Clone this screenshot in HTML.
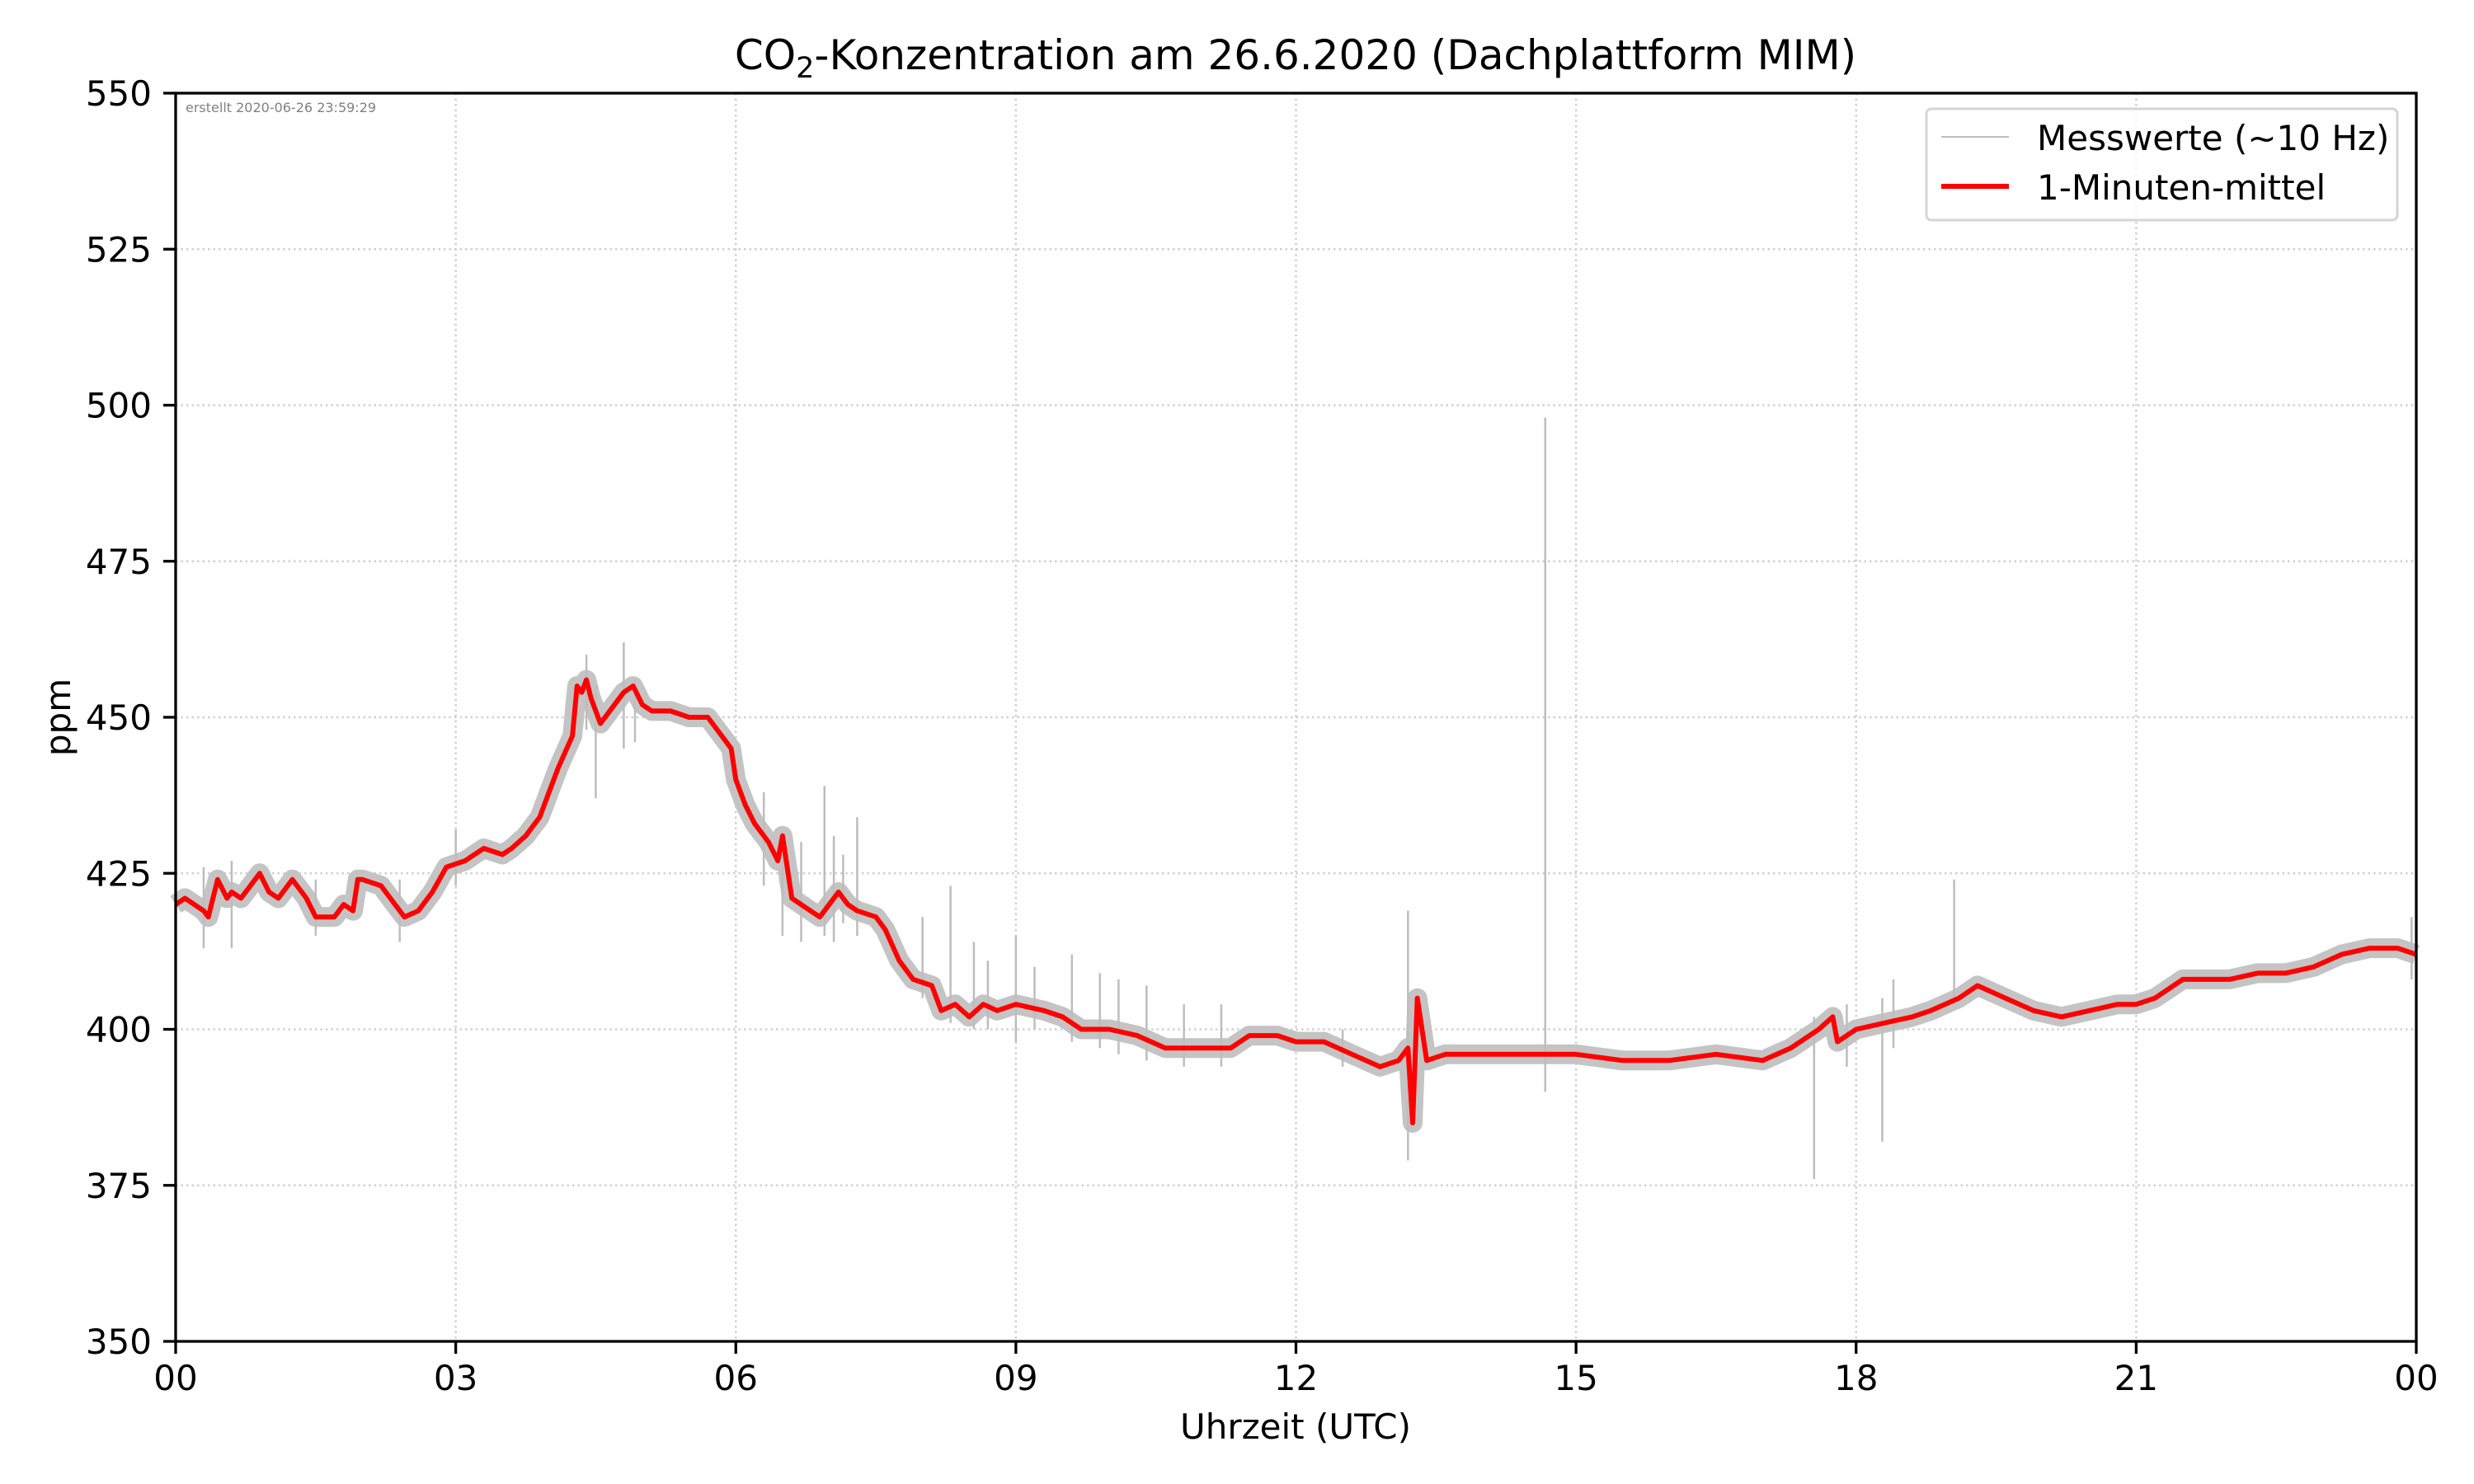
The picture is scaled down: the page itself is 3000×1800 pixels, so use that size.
<!DOCTYPE html>
<html><head><meta charset="utf-8"><style>body{margin:0;background:#fff}svg{display:block}text{font-family:"DejaVu Sans","Liberation Sans",sans-serif}</style></head>
<body>
<svg id="chart" width="3000" height="1800" viewBox="0 0 3000 1800" xmlns="http://www.w3.org/2000/svg">
<rect width="3000" height="1800" fill="#fff"/>
<text x="1571" y="84" font-size="50" text-anchor="middle">CO<tspan font-size="35" dy="10">2</tspan><tspan dy="-10">-Konzentration am 26.6.2020 (Dachplattform MIM)</tspan></text>
<g id="grid"></g><g id="series"></g><g id="axes"></g>
<text x="225" y="136" font-size="16" fill="#808080">erstellt 2020-06-26 23:59:29</text>
<text x="1571" y="1745" font-size="42" text-anchor="middle">Uhrzeit (UTC)</text>
<text x="0" y="0" font-size="42" text-anchor="middle" transform="translate(85,870) rotate(-90)">ppm</text>
<g>
<rect x="2336" y="132" width="571" height="135" rx="6" fill="#fff" fill-opacity="0.8" stroke="#d5d5d5" stroke-width="3"/>
<line x1="2354" y1="166" x2="2436" y2="166" stroke="#bfbfbf" stroke-width="2"/>
<text x="2470" y="182" font-size="42">Messwerte (~10 Hz)</text>
<line x1="2354" y1="226" x2="2436" y2="226" stroke="#ff0000" stroke-width="6"/>
<text x="2470" y="242" font-size="42">1-Minuten-mittel</text>
</g>
</svg>
<script>
const hours=[0,0.1,0.2,0.3,0.35,0.45,0.55,0.6,0.7,0.8,0.9,1.0,1.1,1.25,1.4,1.5,1.7,1.8,1.9,1.95,2.0,2.2,2.35,2.45,2.6,2.75,2.9,3.1,3.3,3.5,3.6,3.75,3.9,4.0,4.1,4.25,4.3,4.35,4.4,4.45,4.55,4.65,4.8,4.9,5.0,5.1,5.3,5.5,5.7,5.85,5.95,6.0,6.1,6.2,6.35,6.45,6.5,6.6,6.8,6.9,7.0,7.1,7.2,7.3,7.5,7.6,7.75,7.9,8.1,8.2,8.35,8.5,8.65,8.8,9.0,9.3,9.5,9.7,10.0,10.3,10.6,11.0,11.3,11.5,11.8,12.0,12.3,12.6,12.9,13.1,13.2,13.25,13.3,13.4,13.6,14.0,14.5,15.0,15.5,16.0,16.5,17.0,17.3,17.6,17.75,17.8,18.0,18.3,18.6,18.8,19.1,19.3,19.6,19.9,20.2,20.5,20.8,21.0,21.2,21.5,21.8,22.0,22.3,22.6,22.9,23.2,23.5,23.8,24.0];
const meanPpm=[420,421,420,419,418,424,421,422,421,423,425,422,421,424,421,418,418,420,419,424,424,423,420,418,419,422,426,427,429,428,429,431,434,438,442,447,455,454,456,453,449,451,454,455,452,451,451,450,450,447,445,440,436,433,430,427,431,421,419,418,420,422,420,419,418,416,411,408,407,403,404,402,404,403,404,403,402,400,400,399,397,397,397,399,399,398,398,396,394,395,397,385,405,395,396,396,396,396,395,395,396,395,397,400,402,398,400,401,402,403,405,407,405,403,402,403,404,404,405,408,408,408,409,409,410,412,413,413,412];
const spikeHours=[4.4,4.8,4.92,4.5,6.5,6.95,7.3,8.3,9.0,10.4,11.2,13.2,14.67,14.67,17.55,18.28,19.05,23.95,6.3,6.7,7.05,7.15,8.0,8.55,8.7,9.2,9.6,9.9,10.1,10.8,12.5,17.9,18.4,0.3,0.6,1.5,2.4,3.0];
const spikeLow=[448,445,446,437,415,415,415,401,398,395,394,379,390,396,376,382,404,408,423,414,414,417,405,400,400,400,398,397,396,394,394,394,397,413,413,415,414,423];
const spikeHigh=[460,462,456,455,428,439,434,423,415,407,404,419,498,396,402,405,424,418,438,430,431,428,418,414,411,410,412,409,408,404,400,404,408,426,427,424,424,432];
const xTicks=[0,3,6,9,12,15,18,21,24];
const xTickLabels=["00","03","06","09","12","15","18","21","00"];
const yTicks=[350,375,400,425,450,475,500,525,550];
const NS="http://www.w3.org/2000/svg";
const L=213,R=2930,T=113,B=1627;
const xs=h=>L+(h/24)*(R-L);
const ys=v=>B-(v-350)/200*(B-T);
function mk(tag,attrs,parent){const e=document.createElementNS(NS,tag);for(const k in attrs)e.setAttribute(k,attrs[k]);parent.appendChild(e);return e;}
const grid=document.getElementById('grid'),ser=document.getElementById('series'),ax=document.getElementById('axes');
xTicks.forEach((h,i)=>{
 const g=mk('line',{x1:xs(h),x2:xs(h),y1:T,y2:B,stroke:'#d0d0d0','stroke-width':2.5,'stroke-dasharray':'2.5,4'},grid);
 
 
 const t=mk('line',{x1:xs(h),x2:xs(h),y1:B,y2:B+15,stroke:'#000','stroke-width':3.3},ax);
 
 
 const lb=mk('text',{x:xs(h),y:1686,'font-size':42,'text-anchor':'middle'},ax);lb.textContent=xTickLabels[i];
 
 
});
yTicks.forEach(v=>{
 const g=mk('line',{x1:L,x2:R,y1:ys(v),y2:ys(v),stroke:'#d0d0d0','stroke-width':2.5,'stroke-dasharray':'2.5,4'},grid);
 
 
 const t=mk('line',{x1:L-15,x2:L,y1:ys(v),y2:ys(v),stroke:'#000','stroke-width':3.3},ax);
 
 
 const lb=mk('text',{x:L-29,y:ys(v)+15,'font-size':42,'text-anchor':'end'},ax);lb.textContent=v;
 
 
});
const d=hours.map((h,i)=>(i?'L':'M')+xs(h).toFixed(1)+','+ys(meanPpm[i]).toFixed(1)).join(' ');
const raw=mk('path',{d:d,fill:'none',stroke:'#c4c4c4','stroke-width':24,'stroke-linejoin':'round'},ser);


spikeHours.forEach((h,i)=>{
 const s=mk('line',{x1:xs(h),x2:xs(h),y1:ys(spikeLow[i]),y2:ys(spikeHigh[i]),stroke:'#bdbdbd','stroke-width':2.5},ser);
 
 
});
const m=mk('path',{d:d,fill:'none',stroke:'#ff0000','stroke-width':6,'stroke-linejoin':'round'},ser);


const fr=mk('rect',{x:L,y:T,width:R-L,height:B-T,fill:'none',stroke:'#000','stroke-width':3.3},ax);


</script>
</body></html>
